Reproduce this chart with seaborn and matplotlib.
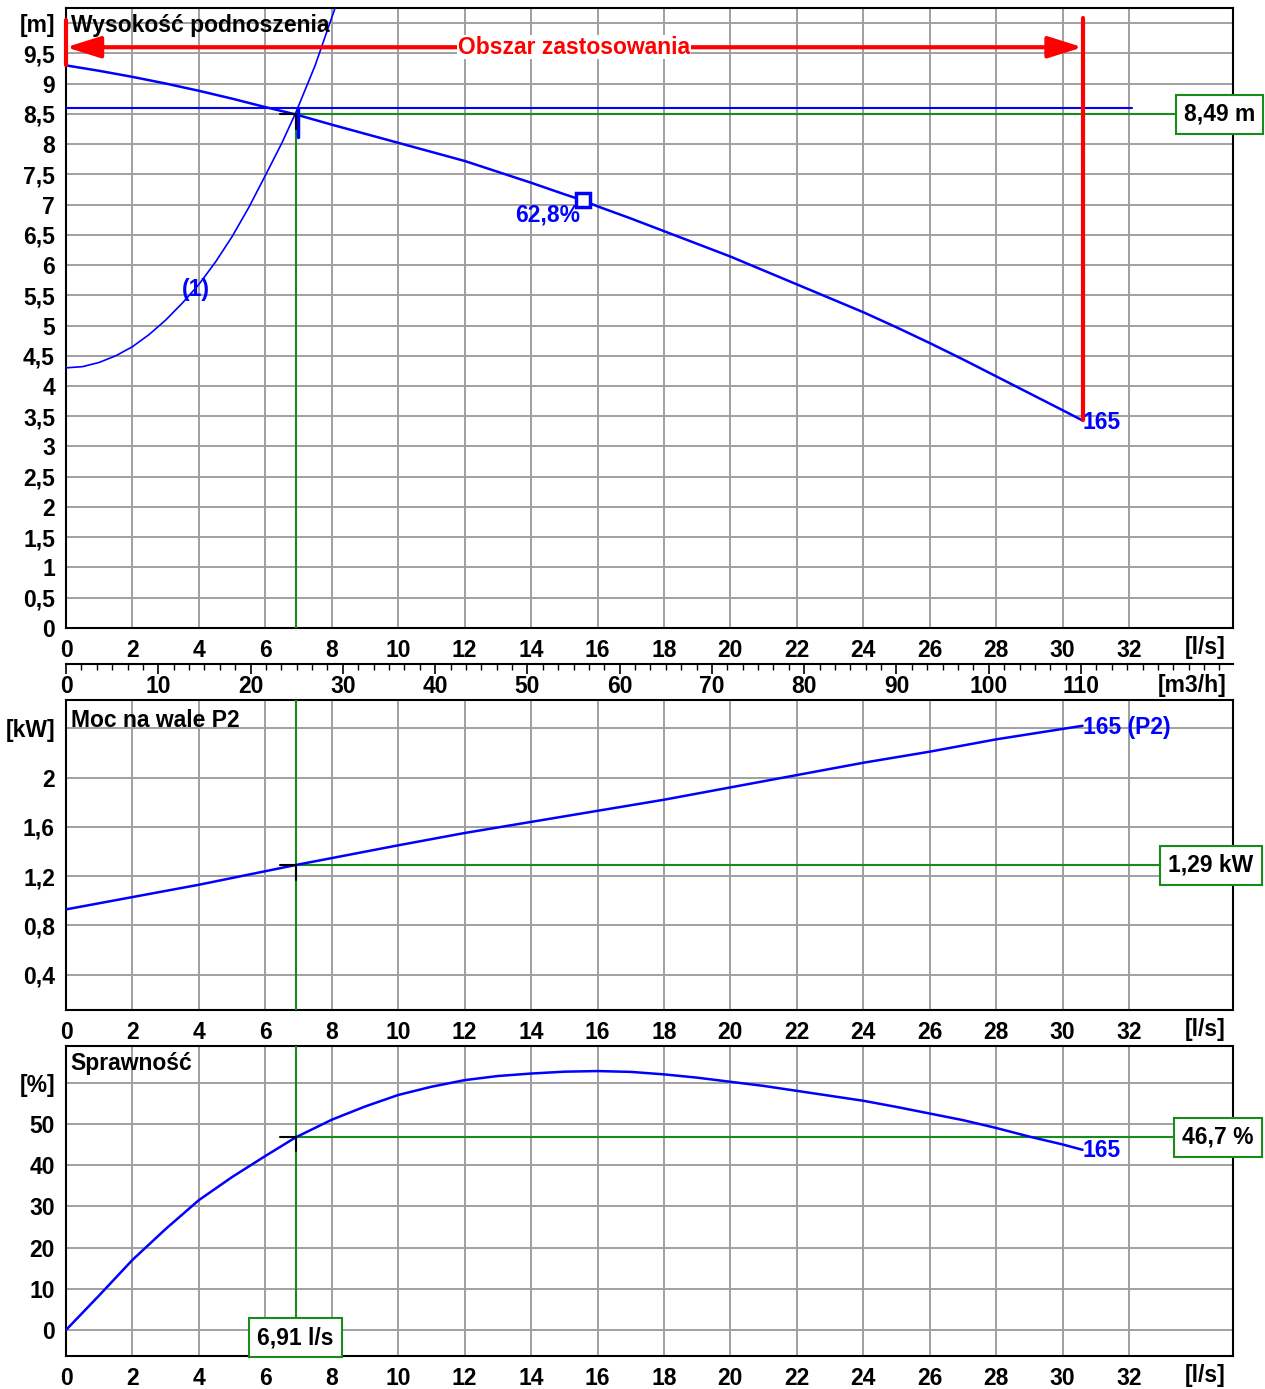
import numpy as np
import pandas as pd
import seaborn as sns
import matplotlib.pyplot as plt
from matplotlib.ticker import MultipleLocator, FixedLocator
from matplotlib.transforms import blended_transform_factory

# ---- data ----
# pump curve 165 : head [m] vs flow [l/s]
q_pump = [0, 1, 2, 3, 4, 5, 6, 6.91, 8, 9, 10, 11, 12, 13, 14, 15, 15.55, 16, 17, 18, 19, 20,
          21, 22, 23, 24, 25, 26, 27, 28, 29, 30, 30.6]
h_pump = [9.30, 9.21, 9.11, 9.00, 8.88, 8.75, 8.61, 8.49, 8.32, 8.17, 8.02, 7.87, 7.72, 7.54,
          7.36, 7.17, 7.07, 6.97, 6.77, 6.56, 6.35, 6.14, 5.91, 5.68, 5.45, 5.22, 4.97, 4.71,
          4.44, 4.16, 3.88, 3.60, 3.43]

# system curve (1)
q_sys = [0, 0.5, 1, 1.5, 2, 2.5, 3, 3.5, 4, 4.5, 5, 5.5, 6, 6.5, 6.91, 7.5, 8.1]
h_sys = [4.30, 4.32, 4.39, 4.50, 4.65, 4.85, 5.09, 5.37, 5.68, 6.05, 6.47, 6.95, 7.48, 8.02,
         8.51, 9.30, 10.25]

# shaft power P2 [kW]
q_p2 = [0, 2, 4, 6.91, 10, 12, 14, 16, 18, 20, 22, 24, 26, 28, 30.6]
p2 = [0.93, 1.03, 1.13, 1.29, 1.45, 1.55, 1.64, 1.73, 1.82, 1.92, 2.02, 2.12, 2.21, 2.31, 2.42]

# efficiency [%]
q_eta = [0, 1, 2, 3, 4, 5, 6, 6.91, 8, 9, 10, 11, 12, 13, 14, 15, 16, 17, 18, 19, 20, 21, 22,
         23, 24, 25, 26, 27, 28, 29, 30, 30.6]
eta = [0, 8.4, 17.0, 24.5, 31.5, 37.1, 42.2, 46.7, 51.0, 54.2, 57.0, 59.0, 60.6, 61.6, 62.2,
       62.65, 62.8, 62.6, 62.0, 61.2, 60.2, 59.2, 58.0, 56.8, 55.6, 54.1, 52.5, 50.9, 49.0,
       46.9, 45.0, 43.7]

# duty point
q_op = 6.91
h_op = 8.49
p_op = 1.29
eta_op = 46.7
q_bep, h_bep, eta_bep = 15.55, 7.07, 62.8
q_end = 30.6
h_req = 8.6

sns.set_style("white")
plt.rcParams['font.family'] = ['Liberation Sans', 'DejaVu Sans']
plt.rcParams['font.weight'] = 'bold'
plt.rcParams['text.color'] = 'black'
plt.rcParams['xtick.color'] = 'black'
plt.rcParams['ytick.color'] = 'black'
plt.rcParams['axes.labelcolor'] = 'black'
FS = 16.5

BLUE = '#0000ff'
GREEN = '#1a8a1a'
RED = '#ff0000'
GRID = '#a0a0a0'
XMAX = 35.13

fig = plt.figure(figsize=(12.65, 13.89), dpi=100)
ax1 = fig.add_axes([0.0522, 0.5479, 0.9225, 0.4464])
ax2 = fig.add_axes([0.0522, 0.2729, 0.9225, 0.2232])
ax3 = fig.add_axes([0.0522, 0.0238, 0.9225, 0.2232])


def fmt(v):
    return ('%g' % round(v, 2)).replace('.', ',')


def setup(ax, ylim, yticks, unit, yminor):
    ax.set_xlim(0, XMAX)
    ax.set_ylim(*ylim)
    ax.xaxis.set_major_locator(FixedLocator(np.arange(0, 33, 2)))
    ax.xaxis.set_minor_locator(MultipleLocator(0.5))
    ax.set_xticklabels([fmt(v) for v in np.arange(0, 33, 2)])
    ax.set_yticks(yticks)
    labs = [fmt(v) for v in yticks]
    labs[-1] = unit
    ax.set_yticklabels(labs)
    ax.yaxis.set_minor_locator(MultipleLocator(yminor))
    ax.grid(True, which='major', color=GRID, lw=1.4)
    ax.set_axisbelow(True)
    ax.tick_params(which='major', direction='out', length=7, width=1.2, labelsize=FS, pad=1,
                   colors='black')
    ax.tick_params(which='minor', direction='out', length=4, width=1.0, colors='black')
    for s in ax.spines.values():
        s.set_color('black')
        s.set_linewidth(1.5)
    ax.set_xlabel('')
    ax.set_ylabel('')
    tr = blended_transform_factory(ax.transData, ax.transAxes)
    return tr


# ---------------- panel 1 : head ----------------
sns.lineplot(x=q_pump, y=h_pump, ax=ax1, color=BLUE, linewidth=1.8,
             estimator=None, sort=False, legend=False, zorder=4)
sns.lineplot(x=q_sys, y=h_sys, ax=ax1, color=BLUE, linewidth=1.2,
             estimator=None, sort=False, legend=False, zorder=4)
tr1 = setup(ax1, (0, 10.25), np.arange(0, 10.01, 0.5), '[m]', 0.1)

ax1.plot([0, 32.1], [h_req, h_req], color=BLUE, lw=1.5, zorder=3)
ax1.plot([6.98, 6.98], [h_req, 8.12], color=BLUE, lw=2.5, zorder=5)
ax1.plot([q_op, q_op], [0, h_op], color=GREEN, lw=1.5, zorder=3)
ax1.plot([q_op, 34.7], [h_op, h_op], color=GREEN, lw=1.5, zorder=3, clip_on=False)
ax1.plot([6.45, q_op], [h_op, h_op], color='black', lw=1.5, zorder=6)
ax1.plot([q_op, q_op], [h_op, 8.25], color='black', lw=1.5, zorder=6)

# application range
ax1.annotate('', xy=(0, 9.6), xytext=(q_end, 9.6),
             arrowprops=dict(arrowstyle='<|-|>,head_length=1.05,head_width=0.33',
                             color=RED, lw=3, shrinkA=0, shrinkB=0, mutation_scale=20),
             zorder=6)
ax1.plot([q_end, q_end], [10.08, h_pump[-1]], color=RED, lw=3, zorder=6)
ax1.plot([0, 0], [10.05, 9.3], color=RED, lw=3, zorder=6, clip_on=False)
ax1.text(15.29, 9.6, 'Obszar zastosowania', color=RED, fontsize=FS, ha='center', va='center',
         zorder=7, bbox=dict(fc='white', ec='none', pad=0.5))

ax1.plot([q_bep], [h_bep], marker='s', ms=10, mfc='white', mec=BLUE, mew=2.5, zorder=7)
ax1.text(15.47, 6.83, '62,8%', color=BLUE, fontsize=FS, ha='right', va='center', zorder=7)
ax1.text(3.9, 5.59, '(1)', color=BLUE, fontsize=FS, ha='center', va='center', zorder=7)
ax1.text(30.6, 3.40, '165', color=BLUE, fontsize=FS, ha='left', va='center', zorder=7)
ax1.text(0.004, 0.99, 'Wysokość podnoszenia', transform=ax1.transAxes, fontsize=FS,
         ha='left', va='top', zorder=7)
ax1.text(34.72, h_op, '8,49 m', fontsize=FS, ha='center', va='center', zorder=8, clip_on=False,
         bbox=dict(boxstyle='square,pad=0.35', fc='white', ec=GREEN, lw=1.5))
ax1.text(34.3, -0.032, '[l/s]', transform=tr1, fontsize=FS, ha='center', va='center')

sec = ax1.secondary_xaxis(-0.058, functions=(lambda x: x * 3.6, lambda x: x / 3.6))
sec.xaxis.set_major_locator(FixedLocator(np.arange(0, 111, 10)))
sec.xaxis.set_minor_locator(FixedLocator(np.arange(0, 126, 10 / 6)))
sec.tick_params(which='major', direction='out', length=7, width=1.2, labelsize=FS, pad=1,
                colors='black')
sec.tick_params(which='minor', direction='out', length=4, width=1.0, colors='black')
sec.spines['bottom'].set_linewidth(1.5)
sec.spines['bottom'].set_color('black')
ax1.text(33.9, -0.092, '[m3/h]', transform=tr1, fontsize=FS, ha='center', va='center')

# ---------------- panel 2 : power ----------------
sns.lineplot(x=q_p2, y=p2, ax=ax2, color=BLUE, linewidth=1.8,
             estimator=None, sort=False, legend=False, zorder=4)
tr2 = setup(ax2, (0.114, 2.63), [0.4, 0.8, 1.2, 1.6, 2.0, 2.4], '[kW]', 0.1)
ax2.plot([q_op, q_op], [0.114, 2.63], color=GREEN, lw=1.5, zorder=3)
ax2.plot([q_op, 34.4], [p_op, p_op], color=GREEN, lw=1.5, zorder=3)
ax2.plot([6.45, q_op], [p_op, p_op], color='black', lw=1.5, zorder=6)
ax2.plot([q_op, q_op], [p_op, 1.17], color='black', lw=1.5, zorder=6)
ax2.text(30.6, 2.41, '165 (P2)', color=BLUE, fontsize=FS, ha='left', va='center', zorder=7)
ax2.text(0.004, 0.97, 'Moc na wale P2', transform=ax2.transAxes, fontsize=FS,
         ha='left', va='top', zorder=7)
ax2.text(34.47, p_op, '1,29 kW', fontsize=FS, ha='center', va='center', zorder=8, clip_on=False,
         bbox=dict(boxstyle='square,pad=0.35', fc='white', ec=GREEN, lw=1.5))
ax2.text(34.3, -0.064, '[l/s]', transform=tr2, fontsize=FS, ha='center', va='center')

# ---------------- panel 3 : efficiency ----------------
sns.lineplot(x=q_eta, y=eta, ax=ax3, color=BLUE, linewidth=1.8,
             estimator=None, sort=False, legend=False, zorder=4)
tr3 = setup(ax3, (-6.3, 68.9), np.arange(0, 61, 10), '[%]', 2)
ax3.plot([q_op, q_op], [-2, 68.9], color=GREEN, lw=1.5, zorder=3)
ax3.plot([q_op, 34.7], [eta_op, eta_op], color=GREEN, lw=1.5, zorder=3)
ax3.plot([6.45, q_op], [eta_op, eta_op], color='black', lw=1.5, zorder=6)
ax3.plot([q_op, q_op], [eta_op, 43.3], color='black', lw=1.5, zorder=6)
ax3.text(30.6, 43.6, '165', color=BLUE, fontsize=FS, ha='left', va='center', zorder=7)
ax3.text(0.004, 0.98, 'Sprawność', transform=ax3.transAxes, fontsize=FS,
         ha='left', va='top', zorder=7)
ax3.text(34.68, eta_op, '46,7 %', fontsize=FS, ha='center', va='center', zorder=8, clip_on=False,
         bbox=dict(boxstyle='square,pad=0.35', fc='white', ec=GREEN, lw=1.5))
ax3.text(q_op, -1.9, '6,91 l/s', fontsize=FS, ha='center', va='center', zorder=8,
         bbox=dict(boxstyle='square,pad=0.35', fc='white', ec=GREEN, lw=1.5))
ax3.text(34.3, -0.064, '[l/s]', transform=tr3, fontsize=FS, ha='center', va='center')

fig.savefig('out.png', dpi=100)
